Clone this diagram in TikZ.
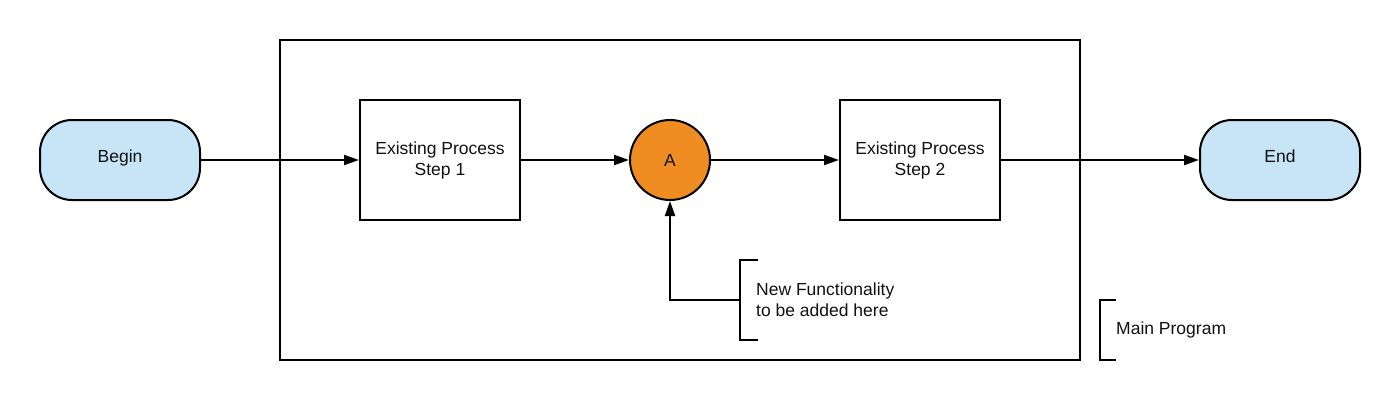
\documentclass[tikz,border=0pt]{standalone}
\usepackage{fontspec}
\setmainfont{Liberation Sans}
\usetikzlibrary{arrows.meta,positioning}
\definecolor{termblue}{HTML}{C7E5F7}
\definecolor{funcorange}{HTML}{EF8D22}
\definecolor{txtgrey}{HTML}{111111}
\tikzset{
  every node/.style={font=\fontsize{17.5}{21}\selectfont, text=txtgrey},
  terminal/.style={draw, fill=termblue, rounded corners=32pt, minimum width=160pt, minimum height=80pt, line width=2pt, text height=0.72em, text depth=0.25em},
  stepbox/.style={draw, fill=white, minimum width=160pt, minimum height=120pt, align=center, line width=2pt},
  newfunc/.style={draw, circle, fill=funcorange, minimum size=80pt, inner sep=0pt, line width=2pt},
  note/.style={anchor=west, align=left, inner xsep=16pt, inner ysep=0pt},
  flow/.style={line width=2pt, -{Triangle[length=15pt,width=10pt]}}
}
\begin{document}
\begin{tikzpicture}[line cap=rect,line join=miter,x=1pt,y=-1pt]
  \useasboundingbox (0,0) rectangle (1400,400);
  % main program frame
  \node[draw, line width=2pt, minimum width=800pt, minimum height=320pt] (program) at (680,200) {};
  % flow
  \node[terminal] (begin) at (120,160) {Begin};
  \node[stepbox] (step1) at (440,160) {Existing Process\\Step 1};
  \node[newfunc] (A) at (670,160) {A};
  \node[stepbox] (step2) at (920,160) {Existing Process\\Step 2};
  \node[terminal] (end) at (1280,160) {End};
  \draw[flow] (begin) -- (step1);
  \draw[flow] (step1) -- (A);
  \draw[flow] (A) -- (step2);
  \draw[flow] (step2) -- (end);
  % annotations
  \node[note, minimum height=80pt] (newnote) at (740,300) {New Functionality\\to be added here};
  \draw[line width=2pt] ([xshift=17pt]newnote.north west) -- (newnote.north west) -- (newnote.south west) -- ++(17,0);
  \draw[flow] (newnote.west) -| (A);
  \node[note, minimum height=60pt] (mainnote) at (1100,330) {Main Program};
  \draw[line width=2pt] ([xshift=15pt]mainnote.north west) -- (mainnote.north west) -- (mainnote.south west) -- ++(15,0);
\end{tikzpicture}
\end{document}
